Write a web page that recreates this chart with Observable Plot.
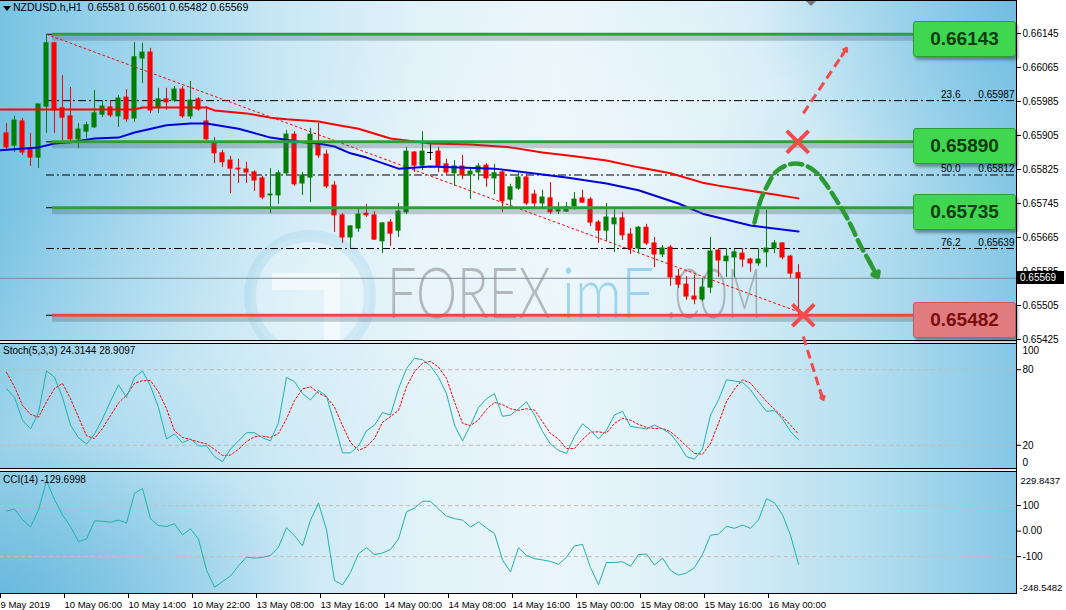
<!DOCTYPE html>
<html>
<head>
<meta charset="utf-8">
<script src="https://cdn.jsdelivr.net/npm/d3@7"></script>
<script src="https://cdn.jsdelivr.net/npm/@observablehq/plot@0.6"></script>
<style>
html,body{margin:0;padding:0;background:#fff;}
#root{position:relative;width:1066px;height:610px;overflow:hidden;font-family:"Liberation Sans",Arial,sans-serif;color:#000;}
#bg{position:absolute;left:0;top:0;width:1016px;height:593px;
 background:
  radial-gradient(ellipse 260px 200px at 100% 0%, rgba(70,170,218,0.55), rgba(70,170,218,0) 100%),
  radial-gradient(ellipse 320px 160px at 0% 100%, rgba(80,172,215,0.5), rgba(80,172,215,0) 100%),
  linear-gradient(155deg, rgba(255,255,255,0) 20%, rgba(255,255,255,0.28) 42%, rgba(255,255,255,0) 62%),
  linear-gradient(90deg,#78c3e3 0%,#a2d6ed 14%,#c9e8f5 28%,#e2f2f9 42%,#eaf6fb 55%,#d9eef7 70%,#b5dff0 85%,#84c7e5 100%);}
.layer{position:absolute;left:0;}
.sep{position:absolute;left:0;width:1017px;height:2px;border-top:1px solid #000;border-bottom:1px solid #000;background:#e6eef2;}
.lvl{position:absolute;left:913px;width:101px;height:34px;border-radius:3px;font-weight:bold;font-size:19px;line-height:34px;text-align:center;box-shadow:2px 3px 3px rgba(0,0,0,0.35);}
.lvl.g{background:#41d64f;border:1px solid #2c9c38;color:#0e3d12;}
.lvl.r{background:#e07c7f;border:1px solid #c65a5d;color:#7c0d0d;}
.lab{position:absolute;font-size:10px;white-space:nowrap;}
</style>
</head>
<body>
<div id="root">
 <div id="bg"></div>
 <svg id="wm" class="layer" width="1016" height="341" style="top:0">
  <circle cx="310" cy="296" r="60" fill="rgba(255,255,255,0.22)" stroke="rgba(120,190,225,0.2)" stroke-width="12"/>
  <path d="M272 273 H340 V341 H324 V290 H272 Z" fill="rgba(255,255,255,0.55)"/>
 </svg>
 <div id="cci" class="layer" style="top:472px;z-index:1"></div>
 <div id="stoch" class="layer" style="top:344px;z-index:1"></div>
 <div id="main" class="layer" style="top:0;z-index:3"></div>
 <div class="sep" style="top:340px;z-index:2"></div>
 <div class="sep" style="top:468px;z-index:2"></div>
 <div style="position:absolute;left:0;top:593px;width:1017px;height:1px;background:#000;z-index:2"></div>
 <div style="position:absolute;left:0;top:0;width:1017px;height:1px;background:#000;z-index:2"></div>
 <div style="position:absolute;left:1016px;top:0;width:1px;height:594px;background:#000;z-index:2"></div>
 <div style="position:absolute;left:806px;top:1px;width:0;height:0;border-left:5px solid transparent;border-right:5px solid transparent;border-top:5px solid #777;z-index:4"></div>
 <div style="position:absolute;left:3px;top:6px;width:0;height:0;border-left:4px solid transparent;border-right:4px solid transparent;border-top:5px solid #000;z-index:4"></div>
 <div class="lab" style="left:13px;top:1px;font-size:10.5px;z-index:4">NZDUSD.h,H1&nbsp; 0.65581 0.65601 0.65482 0.65569</div>
 <div class="lab" style="left:3px;top:345px;z-index:4">Stoch(5,3,3) 24.3144 28.9097</div>
 <div class="lab" style="left:3px;top:474px;z-index:4">CCI(14) -129.6998</div>
</div>
<script>
// ---------- data ----------
const opens = [0.65910,0.65881,0.65938,0.65874,0.65853,0.65973,0.66122,0.65969,0.65950,0.65896,
0.65914,0.65924,0.65954,0.65971,0.65950,0.65994,0.65945,0.66086,0.66100,0.65971,
0.65990,0.65987,0.66013,0.65950,0.65990,0.65938,0.65889,0.65863,0.65846,0.65827,
0.65825,0.65818,0.65804,0.65764,0.65764,0.65816,0.65907,0.65792,0.65806,0.65886,
0.65860,0.65787,0.65717,0.65665,0.65686,0.65721,0.65717,0.65656,0.65700,0.65681,
0.65724,0.65865,0.65834,0.65865,0.65867,0.65837,0.65816,0.65832,0.65813,0.65818,
0.65834,0.65804,0.65818,0.65754,0.65780,0.65806,0.65766,0.65745,0.65757,0.65726,
0.65726,0.65738,0.65757,0.65754,0.65700,0.65681,0.65696,0.65710,0.65672,0.65639,
0.65688,0.65651,0.65625,0.65641,0.65573,0.65554,0.65526,0.65519,0.65547,0.65634,
0.65609,0.65618,0.65627,0.65613,0.65604,0.65630,0.65639,0.65651,0.65620,0.65581];
const highs = [0.65933,0.65950,0.65945,0.65910,0.65978,0.66143,0.66125,0.66046,0.66018,0.65933,
0.65936,0.66011,0.65987,0.65987,0.65999,0.66013,0.66124,0.66122,0.66110,0.66016,
0.66016,0.66020,0.66020,0.66032,0.65994,0.65973,0.65900,0.65870,0.65856,0.65849,
0.65842,0.65822,0.65809,0.65827,0.65822,0.65917,0.65914,0.65818,0.65922,0.65933,
0.65870,0.65797,0.65721,0.65693,0.65733,0.65743,0.65726,0.65700,0.65707,0.65745,
0.65877,0.65867,0.65914,0.65886,0.65877,0.65849,0.65846,0.65858,0.65827,0.65839,
0.65839,0.65837,0.65822,0.65790,0.65816,0.65818,0.65776,0.65776,0.65794,0.65747,
0.65747,0.65771,0.65776,0.65759,0.65705,0.65745,0.65731,0.65724,0.65686,0.65691,
0.65696,0.65665,0.65646,0.65646,0.65590,0.65573,0.65576,0.65569,0.65665,0.65639,
0.65639,0.65637,0.65639,0.65616,0.65639,0.65729,0.65658,0.65653,0.65623,0.65601];
const lows = [0.65870,0.65865,0.65858,0.65832,0.65827,0.65910,0.65910,0.65893,0.65888,0.65874,
0.65898,0.65922,0.65947,0.65947,0.65924,0.65936,0.65936,0.66027,0.65957,0.65957,
0.65964,0.65983,0.65945,0.65943,0.65962,0.65893,0.65839,0.65830,0.65768,0.65792,
0.65792,0.65773,0.65754,0.65721,0.65743,0.65811,0.65785,0.65764,0.65747,0.65851,
0.65780,0.65677,0.65651,0.65639,0.65677,0.65712,0.65658,0.65627,0.65644,0.65665,
0.65719,0.65818,0.65822,0.65846,0.65818,0.65811,0.65785,0.65801,0.65754,0.65799,
0.65783,0.65766,0.65724,0.65733,0.65776,0.65740,0.65733,0.65733,0.65719,0.65719,
0.65724,0.65729,0.65745,0.65691,0.65651,0.65656,0.65630,0.65658,0.65625,0.65627,
0.65646,0.65594,0.65618,0.65550,0.65545,0.65517,0.65507,0.65514,0.65533,0.65571,
0.65571,0.65571,0.65594,0.65583,0.65597,0.65594,0.65627,0.65613,0.65569,0.65482];
const closes = [0.65877,0.65940,0.65865,0.65853,0.65978,0.66122,0.65964,0.65947,0.65896,0.65919,
0.65929,0.65957,0.65973,0.65952,0.65992,0.65943,0.66089,0.66100,0.65964,0.65990,
0.65983,0.66013,0.65950,0.65987,0.65966,0.65896,0.65863,0.65842,0.65827,0.65825,
0.65818,0.65799,0.65759,0.65766,0.65816,0.65907,0.65790,0.65811,0.65907,0.65858,
0.65785,0.65717,0.65665,0.65691,0.65719,0.65717,0.65660,0.65698,0.65674,0.65726,
0.65867,0.65834,0.65867,0.65865,0.65832,0.65818,0.65832,0.65811,0.65820,0.65832,
0.65804,0.65816,0.65750,0.65783,0.65806,0.65745,0.65745,0.65759,0.65724,0.65729,
0.65736,0.65754,0.65747,0.65700,0.65681,0.65712,0.65710,0.65670,0.65639,0.65688,
0.65651,0.65625,0.65639,0.65571,0.65554,0.65526,0.65519,0.65547,0.65632,0.65611,
0.65620,0.65630,0.65613,0.65604,0.65613,0.65639,0.65651,0.65618,0.65580,0.65569];

const redMABars = [-0.75,16,17,25,26,30,33,35,39,41,44,48,53,58,63,67,71,75,79,83,87,89,95,99];
const redMAValues = [0.65966,0.65966,0.65971,0.65971,0.65964,0.65957,0.65947,0.65943,0.65938,0.65931,0.65921,0.65898,0.65886,0.65884,0.65877,0.65865,0.65856,0.65846,0.65830,0.65816,0.65794,0.65787,0.65769,0.65757];
const blueMABars = [-0.75,4,6,8,11,14,16,20,23,25,29,33,37,39,41,43,45,49,53,61,65,70,75,79,84,87,93,99];
const blueMAValues = [0.65870,0.65877,0.65886,0.65889,0.65898,0.65900,0.65912,0.65929,0.65933,0.65933,0.65921,0.65900,0.65889,0.65886,0.65879,0.65863,0.65853,0.65827,0.65832,0.65827,0.65818,0.65806,0.65792,0.65776,0.65745,0.65721,0.65693,0.65679];

const stochMain = [65,58,40,33,46,79,74,58,36,26, 21,29,41,55,68,58,74,79,67,50,
25,29,22,25,19.5,19.5,11,7,17,23.5, 30,30,26,23.5,38,74,70.5,61,56,63.5,
59,37,14,14,19.5,31.5,36,46,44,65, 81,89,88,83,74,61,36,23.5,36,50,
57,61,43,44,49,54.5,44,31,21,16, 13.5,27,37,32,25,32,44,47,35,34,
33,36,33,29,21,11,9,17,44,56, 72,71,70,64,55,47,47.5,41,31,24.3144];
const stochSignal = [77.8,66.5,51.7,44.5,42.3,54.4,65.1,69.1,57,42.3, 27.6,25.4,33.4,43.6,53.6,59.7,69.1,71.3,71.3,62.4,
49,31.5,26.2,24.6,22.7,21.1,16.8,12,12.2,16.8, 23,26.7,27.3,26.2,29.4,41,55.7,64.7,66.5,61.6,
58.4,50.3,35.6,22.2,16,18.7,25.4,38.2,42.8,47.7, 66.5,78.5,85.2,86.6,82,73.2,54.4,37.5,35.6,40.1,
48.5,54.1,52.2,49,47.7,49,48,38.7,29.4,24.9, 17.4,17.4,24.6,30.4,30.7,29.7,37.4,41.4,40,36.6,
34.2,33.4,33.4,30.7,25.4,19.3,13.5,12.9,21.4,37.4, 54.8,64.6,72,69.4,61.9,54.8,48.6,42.7,36,28.9097];
const cciValues = [79,86,45,16,83,198,124,63,18,-41, -31,40,39,35,43,32,148,167,49,22,
18,29,-15,9,-31,-153,-220,-198,-176,-136, -102,-106,-103,-95,-63,13,-18,-58,43,110,
5,-194,-211,-162,-89,-65,-92,-86,-72,-31, 76,90,117,117,87,59,49,43,16,36,
12,-9,-113,-160,-65,-95,-108,-113,-119,-130, -103,-58,-52,-143,-210,-123,-123,-120,-138,-92,
-90,-133,-106,-154,-173,-164,-143,-92,-16,-12, 19,11,24,11,44,127,111,64,-16,-129.6998];

const tickBars = [-1,7,15,23,31,39,47,55,63,71,79,87,95];
const tickLabels = ["9 May 2019","10 May 06:00","10 May 14:00","10 May 22:00","13 May 08:00","13 May 16:00","14 May 00:00","14 May 08:00","14 May 16:00","15 May 00:00","15 May 08:00","15 May 16:00","16 May 00:00"];
const priceTicks = [0.66145,0.66065,0.65985,0.65905,0.65825,0.65745,0.65665,0.65585,0.65505,0.65425];

const greenLevels = [0.66143,0.65890,0.65735];
const redLevels = [0.65482];
const fibPrices = [0.66143,0.65987,0.65890,0.65812,0.65735,0.65639,0.65482];
const fibPct = ["23.6","50.0","76.2"];
const fibShown = [0.65987,0.65812,0.65639];
const fibStartBar = 5;
const levelStartBar = 5.75;
const trendBars = [5,99];
const trendPrices = [0.66143,0.65490];
const lastPrice = 0.65569;

const greenPathBars = [93.5,94.25,95.1,96.1,97.4,98.6,99.9,101.1,102.1,103.6,105.1,106.75,108.0];
const greenPathPrices = [0.65700,0.65752,0.65787,0.65818,0.65834,0.65839,0.65834,0.65820,0.65799,0.65757,0.65710,0.65646,0.65604];
const greenHead = {x1:107.9, y1:0.65607, x2:108.9, y2:0.65572};
const upArrow = {x1:99.6, y1:0.65957, x2:104.6, y2:0.66098};
const upHead = {x1:104.4, y1:0.66092, x2:105.0, y2:0.66110};
const downArrow = {x1:99.6, y1:0.65432, x2:101.9, y2:0.65292};
const downHead = {x1:101.7, y1:0.65305, x2:102.1, y2:0.65284};
const crossBars = [98.9, 99.6];
const crossPrices = [0.65890, 0.65482];

// watermark pieces: text, left, width, fill
const wmParts = [["FOREX", 387, 164, "rgba(110,110,110,0.45)"], ["imF", 562, 92, "rgba(95,185,225,0.55)"], [".COM", 667, 94, "rgba(110,110,110,0.45)"]];

// ---------- derived tables ----------
const candles = opens.map((o,i) => ({i, o, h: highs[i], l: lows[i], c: closes[i]}));
const col = d => d.c > d.o ? "#008000" : (d.c < d.o ? "#ff0000" : "#000000");
const redMA = redMABars.map((b,k) => ({b, v: redMAValues[k]}));
const blueMA = blueMABars.map((b,k) => ({b, v: blueMAValues[k]}));
const trend = trendBars.map((b,k) => ({b, v: trendPrices[k]}));
const greenPath = greenPathBars.map((b,k) => ({b, v: greenPathPrices[k]}));
const crosses = crossBars.map((b,k) => ({b, v: crossPrices[k]}));
const fibLab = fibShown.map((p,k) => ({p, pct: fibPct[k], txt: p.toFixed(5)}));
const labelOf = new Map(tickBars.map((b,k) => [b, tickLabels[k]]));

// watermark text, horizontally scaled to fit
const wm = document.getElementById("wm");
wmParts.forEach(([t, x0, w, fill]) => {
  const el = document.createElementNS("http://www.w3.org/2000/svg", "text");
  el.setAttribute("y", 318);
  el.setAttribute("font-size", 70);
  el.setAttribute("font-family", "Lato, 'Open Sans', sans-serif");
  el.setAttribute("font-weight", 300);
  el.setAttribute("fill", fill);
  el.textContent = t;
  wm.appendChild(el);
  const nat = el.getComputedTextLength() || w;
  const sx = w / nat;
  el.setAttribute("transform", `translate(${x0},0) scale(${sx},1)`);
});

const xDomain = [-0.75, 126.25];
const baseStyle = {background:"transparent", overflow:"visible", fontFamily:"'Liberation Sans', Arial, sans-serif", fontSize:"10px", color:"#000"};
const W = 1066, MR = 50;

const main = Plot.plot({
  width: W, height: 342, marginLeft: 0, marginRight: MR, marginTop: 0, marginBottom: 0,
  style: baseStyle,
  x: {domain: xDomain, axis: null},
  y: {domain: [0.654179, 0.662226], axis: null},
  color: {type: "identity"},
  marks: [
    Plot.ruleY([lastPrice], {stroke: "#7d8a94", strokeWidth: 1}),
    Plot.ruleY(fibPrices, {x1: fibStartBar, x2: xDomain[1], stroke: "#000", strokeWidth: 1, strokeDasharray: "8,3,2,3"}),
    Plot.text(fibLab, {y: "p", text: "txt", frameAnchor: "right", textAnchor: "end", dx: -2, dy: -6, fill: "#000"}),
    Plot.text(fibLab, {y: "p", text: "pct", frameAnchor: "right", textAnchor: "end", dx: -56, dy: -6, fill: "#000"}),
    Plot.line(trend, {x: "b", y: "v", stroke: "#ff0000", strokeWidth: 1, strokeDasharray: "2,3"}),
    Plot.ruleX(candles, {x: "i", y1: "l", y2: "h", stroke: col, strokeWidth: 1}),
    Plot.rect(candles.filter(d => d.o !== d.c), {x1: d => d.i - 0.32, x2: d => d.i + 0.32, y1: d => Math.min(d.o, d.c), y2: d => Math.max(d.o, d.c), fill: col, insetTop: -0.5, insetBottom: -0.5}),
    Plot.ruleY(candles.filter(d => d.o === d.c), {y: "o", x1: d => d.i - 0.35, x2: d => d.i + 0.35, stroke: col, strokeWidth: 1}),
    Plot.line(redMA, {x: "b", y: "v", stroke: "#ff0000", strokeWidth: 2}),
    Plot.line(blueMA, {x: "b", y: "v", stroke: "#0000dd", strokeWidth: 2}),
    Plot.ruleY(greenLevels.concat(redLevels), {x1: levelStartBar, x2: xDomain[1], stroke: "#4a5e68", strokeOpacity: 0.3, strokeWidth: 5, dy: 4}),
    Plot.ruleY(greenLevels, {x1: levelStartBar, x2: xDomain[1], stroke: "#2f9e3a", strokeWidth: 3}),
    Plot.ruleY(redLevels, {x1: levelStartBar, x2: xDomain[1], stroke: "#ef4545", strokeWidth: 3}),
    Plot.line(greenPath, {x: "b", y: "v", curve: "catmull-rom", stroke: "#2b9a33", strokeWidth: 4.5, strokeDasharray: "12,6"}),
    Plot.arrow([greenHead], {x1: "x1", y1: "y1", x2: "x2", y2: "y2", stroke: "#2b9a33", strokeWidth: 4.5, headLength: 18, headAngle: 75}),
    Plot.link([upArrow], {x1: "x1", y1: "y1", x2: "x2", y2: "y2", stroke: "#f24b4b", strokeWidth: 3, strokeDasharray: "9,5"}),
    Plot.arrow([upHead], {x1: "x1", y1: "y1", x2: "x2", y2: "y2", stroke: "#f24b4b", strokeWidth: 3, headLength: 13, headAngle: 70}),
    Plot.link([downArrow], {x1: "x1", y1: "y1", x2: "x2", y2: "y2", stroke: "#f24b4b", strokeWidth: 3, strokeDasharray: "9,5"}),
    Plot.arrow([downHead], {x1: "x1", y1: "y1", x2: "x2", y2: "y2", stroke: "#f24b4b", strokeWidth: 3, headLength: 13, headAngle: 70}),
    Plot.dot(crosses, {x: "b", y: "v", symbol: "times", r: 10, stroke: "#f24b4b", strokeWidth: 4}),
    Plot.axisY(priceTicks, {anchor: "right", tickFormat: d => d.toFixed(5), tickSize: 4, tickPadding: 2})
  ]
});
document.getElementById("main").appendChild(main);

const stoch = Plot.plot({
  width: W, height: 126, marginLeft: 0, marginRight: MR, marginTop: 0, marginBottom: 0,
  style: baseStyle,
  x: {domain: xDomain, axis: null},
  y: {domain: [0, 100], axis: null},
  marks: [
    Plot.ruleY([80, 20], {stroke: "#bdbdbd", strokeDasharray: "4,3"}),
    Plot.lineY(stochSignal, {x: (d, i) => i, stroke: "#ff0000", strokeWidth: 1, strokeDasharray: "2,2"}),
    Plot.lineY(stochMain, {x: (d, i) => i, stroke: "#20b2aa", strokeWidth: 1}),
    Plot.axisY([80, 20], {anchor: "right", tickSize: 4, tickPadding: 2}),
    Plot.axisY([100], {anchor: "right", tickSize: 0, tickPadding: 6, dy: 6}),
    Plot.axisY([0], {anchor: "right", tickSize: 0, tickPadding: 6, dy: -8})
  ]
});
document.getElementById("stoch").appendChild(stoch);

const cciTop = 229.8437, cciBottom = -248.5482;
const cci = Plot.plot({
  width: W, height: 138, marginLeft: 0, marginRight: MR, marginTop: 0, marginBottom: 16,
  style: baseStyle,
  x: {domain: xDomain, axis: null},
  y: {domain: [cciBottom, cciTop], axis: null},
  marks: [
    Plot.ruleY([100, -100], {stroke: "#cbbdb5", strokeDasharray: "4,3"}),
    Plot.lineY(cciValues, {x: (d, i) => i, stroke: "#20b2aa", strokeWidth: 1}),
    Plot.axisY([100, 0, -100], {anchor: "right", tickSize: 4, tickPadding: 2, tickFormat: d => d === 0 ? "0.00" : String(d)}),
    Plot.axisY([cciTop], {anchor: "right", tickSize: 0, tickPadding: 4, dy: 8, fontSize: 9.5, tickFormat: d => d.toFixed(4)}),
    Plot.axisY([cciBottom], {anchor: "right", tickSize: 0, tickPadding: 3, dy: -7, fontSize: 9.5, tickFormat: d => d.toFixed(4)}),
    Plot.axisX(tickBars, {tickFormat: d => labelOf.get(d), textAnchor: "start", tickSize: 4, tickPadding: 3, dx: 2, fontSize: 9.5})
  ]
});
document.getElementById("cci").appendChild(cci);

// ---------- HTML overlays positioned with the plot's own y scale ----------
const yS = main.scale("y");
const root = document.getElementById("root");
function box(p, cls) {
  const d = document.createElement("div");
  d.className = "lvl " + cls;
  d.style.top = (yS.apply(p) - 13) + "px";
  d.style.zIndex = 5;
  d.textContent = p.toFixed(5);
  root.appendChild(d);
}
greenLevels.forEach(p => box(p, "g"));
redLevels.forEach(p => box(p, "r"));
const pb = document.createElement("div");
pb.style.cssText = "position:absolute;left:1017px;width:44px;height:13px;background:#000;color:#fff;font-size:10px;line-height:13px;padding-left:3px;z-index:6";
pb.style.top = (yS.apply(lastPrice) - 6.5) + "px";
pb.textContent = lastPrice.toFixed(5);
root.appendChild(pb);
</script>
</body>
</html>
